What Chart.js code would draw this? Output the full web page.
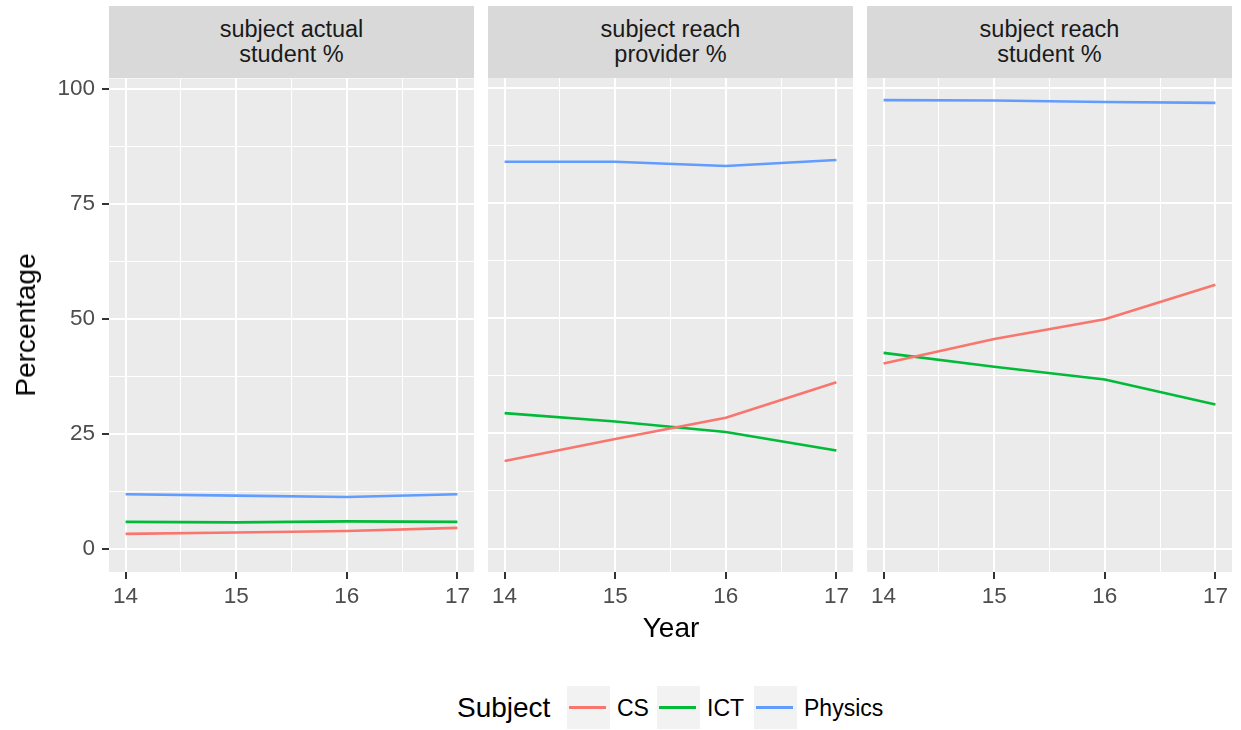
<!DOCTYPE html>
<html>
<head>
<meta charset="utf-8">
<script src="https://cdn.jsdelivr.net/npm/chart.js@4/dist/chart.umd.min.js"></script>
<style>
  html, body { margin: 0; padding: 0; background: #ffffff; }
  body { width: 1241px; height: 730px; position: relative; overflow: hidden;
         font-family: "Liberation Sans", Arial, sans-serif; }
  .panel { position: absolute; }
  .strip { position: absolute; background: #D9D9D9; color: #1A1A1A; font-size: 23.5px;
           line-height: 25px; text-align: center; display: flex; align-items: center;
           justify-content: center; white-space: pre; }
  .title { position: absolute; color: #000; font-size: 28px; white-space: nowrap; }
  .key { position: absolute; width: 43px; height: 43px; background: #F2F2F2; }
  .key span { position: absolute; left: 2px; right: 4px; top: 20px; height: 3px; }
  .ltext { position: absolute; font-size: 23px; color: #000; line-height: 30px; }
</style>
</head>
<body>
<script>
// facet data
var years = [14, 15, 16, 17];
var facetLabels = ['subject actual\nstudent %', 'subject reach\nprovider %', 'subject reach\nstudent %'];
var subjects = ['CS', 'ICT', 'Physics'];
var subjectColors = ['#F8766D', '#00BA38', '#619CFF'];

var csActualStudent = [3.2, 3.5, 3.8, 4.5];
var ictActualStudent = [5.8, 5.7, 5.9, 5.8];
var physicsActualStudent = [11.8, 11.5, 11.2, 11.8];

var csReachProvider = [19.0, 23.8, 28.4, 36.1];
var ictReachProvider = [29.4, 27.6, 25.3, 21.3];
var physicsReachProvider = [84.0, 84.0, 83.1, 84.4];

var csReachStudent = [40.2, 45.5, 49.8, 57.3];
var ictReachStudent = [42.5, 39.5, 36.7, 31.3];
var physicsReachStudent = [97.4, 97.3, 97.0, 96.8];

var yTicks = [0, 12.5, 25, 37.5, 50, 62.5, 75, 87.5, 100];
var xTicks = [14, 14.5, 15, 15.5, 16, 16.5, 17];

var facetSeries = [
  [csActualStudent, ictActualStudent, physicsActualStudent],
  [csReachProvider, ictReachProvider, physicsReachProvider],
  [csReachStudent, ictReachStudent, physicsReachStudent]
];

Chart.defaults.font.family = '"Liberation Sans", Arial, sans-serif';
Chart.defaults.animation = false;

var panelLeft = [109, 488, 867];
var panelWidth = 365;
var plotTop = 78, plotBottom = 572;
var yAxisW = 70;

// grey panel background
var panelBg = {
  id: 'panelBg',
  beforeDraw: function (chart) {
    var a = chart.chartArea, c = chart.ctx;
    c.save();
    c.fillStyle = '#EBEBEB';
    c.fillRect(a.left, a.top, a.right - a.left, a.bottom - a.top);
    c.restore();
  }
};

function isMajor(v, step) { return Math.abs(v / step - Math.round(v / step)) < 1e-6; }

facetSeries.forEach(function (series, p) {
  var first = p === 0;
  var leftW = first ? yAxisW : 0;

  var strip = document.createElement('div');
  strip.className = 'strip';
  strip.style.left = panelLeft[p] + 'px';
  strip.style.top = '6px';
  strip.style.width = panelWidth + 'px';
  strip.style.height = '72px';
  strip.textContent = facetLabels[p];
  document.body.appendChild(strip);

  var box = document.createElement('div');
  box.className = 'panel';
  box.style.left = (panelLeft[p] - leftW) + 'px';
  box.style.top = (plotTop - 20) + 'px';
  box.style.width = (panelWidth + leftW) + 'px';
  box.style.height = (20 + plotBottom - plotTop + 45) + 'px';
  var cv = document.createElement('canvas');
  box.appendChild(cv);
  document.body.appendChild(box);

  new Chart(cv.getContext('2d'), {
    type: 'line',
    data: {
      datasets: series.map(function (vals, i) {
        return {
          label: subjects[i],
          data: years.map(function (y, k) { return { x: y, y: vals[k] }; }),
          borderColor: subjectColors[i],
          borderWidth: 2.6,
          pointRadius: 0,
          tension: 0,
          fill: false
        };
      })
    },
    options: {
      responsive: true,
      maintainAspectRatio: false,
      layout: { padding: { top: 20, left: 0, right: 0, bottom: 0 } },
      plugins: { legend: { display: false }, tooltip: { enabled: false } },
      scales: {
        x: {
          type: 'linear',
          min: 13.85, max: 17.15,
          afterBuildTicks: function (s) { s.ticks = xTicks.map(function (v) { return { value: v }; }); },
          afterFit: function (s) { s.height = 45; },
          border: { display: false },
          grid: {
            color: '#FFFFFF',
            lineWidth: function (c) { return c.tick && isMajor(c.tick.value, 1) ? 2 : 1; },
            tickColor: function (c) { return c.tick && isMajor(c.tick.value, 1) ? '#333333' : 'rgba(0,0,0,0)'; },
            tickLength: 7,
            drawTicks: true
          },
          ticks: {
            autoSkip: false, maxRotation: 0, padding: 4,
            color: '#4D4D4D', font: { size: 22.5 },
            callback: function (v) { return isMajor(v, 1) ? String(v) : ''; }
          }
        },
        y: {
          min: -5.1, max: 102.2,
          afterBuildTicks: function (s) { s.ticks = yTicks.map(function (v) { return { value: v }; }); },
          afterFit: function (s) { s.width = leftW; },
          border: { display: false },
          grid: {
            color: '#FFFFFF',
            lineWidth: function (c) { return c.tick && isMajor(c.tick.value, 25) ? 2 : 1; },
            tickColor: function (c) { return c.tick && isMajor(c.tick.value, 25) ? '#333333' : 'rgba(0,0,0,0)'; },
            tickLength: 7,
            drawTicks: first
          },
          ticks: {
            display: first, autoSkip: false, padding: 7,
            color: '#4D4D4D', font: { size: 22.5 },
            callback: function (v) { return isMajor(v, 25) ? String(v) : ''; }
          }
        }
      }
    },
    plugins: [panelBg]
  });
});

// axis titles
var yTitle = document.createElement('div');
yTitle.className = 'title';
yTitle.textContent = 'Percentage';
yTitle.style.left = '26px';
yTitle.style.top = '325px';
yTitle.style.transform = 'translate(-50%, -50%) rotate(-90deg)';
document.body.appendChild(yTitle);

var xTitle = document.createElement('div');
xTitle.className = 'title';
xTitle.textContent = 'Year';
xTitle.style.left = '671px';
xTitle.style.top = '628px';
xTitle.style.transform = 'translate(-50%, -50%)';
document.body.appendChild(xTitle);

// legend
var legTitle = document.createElement('div');
legTitle.className = 'title';
legTitle.textContent = 'Subject';
legTitle.style.left = '457px';
legTitle.style.top = '708px';
legTitle.style.transform = 'translate(0, -50%)';
document.body.appendChild(legTitle);

var keyLeft = [567, 657, 754];
subjects.forEach(function (name, i) {
  var k = document.createElement('div');
  k.className = 'key';
  k.style.left = keyLeft[i] + 'px';
  k.style.top = '686px';
  var ln = document.createElement('span');
  ln.style.background = subjectColors[i];
  k.appendChild(ln);
  document.body.appendChild(k);
  var t = document.createElement('div');
  t.className = 'ltext';
  t.textContent = name;
  t.style.left = (keyLeft[i] + 50) + 'px';
  t.style.top = '693px';
  document.body.appendChild(t);
});
</script>
</body>
</html>
